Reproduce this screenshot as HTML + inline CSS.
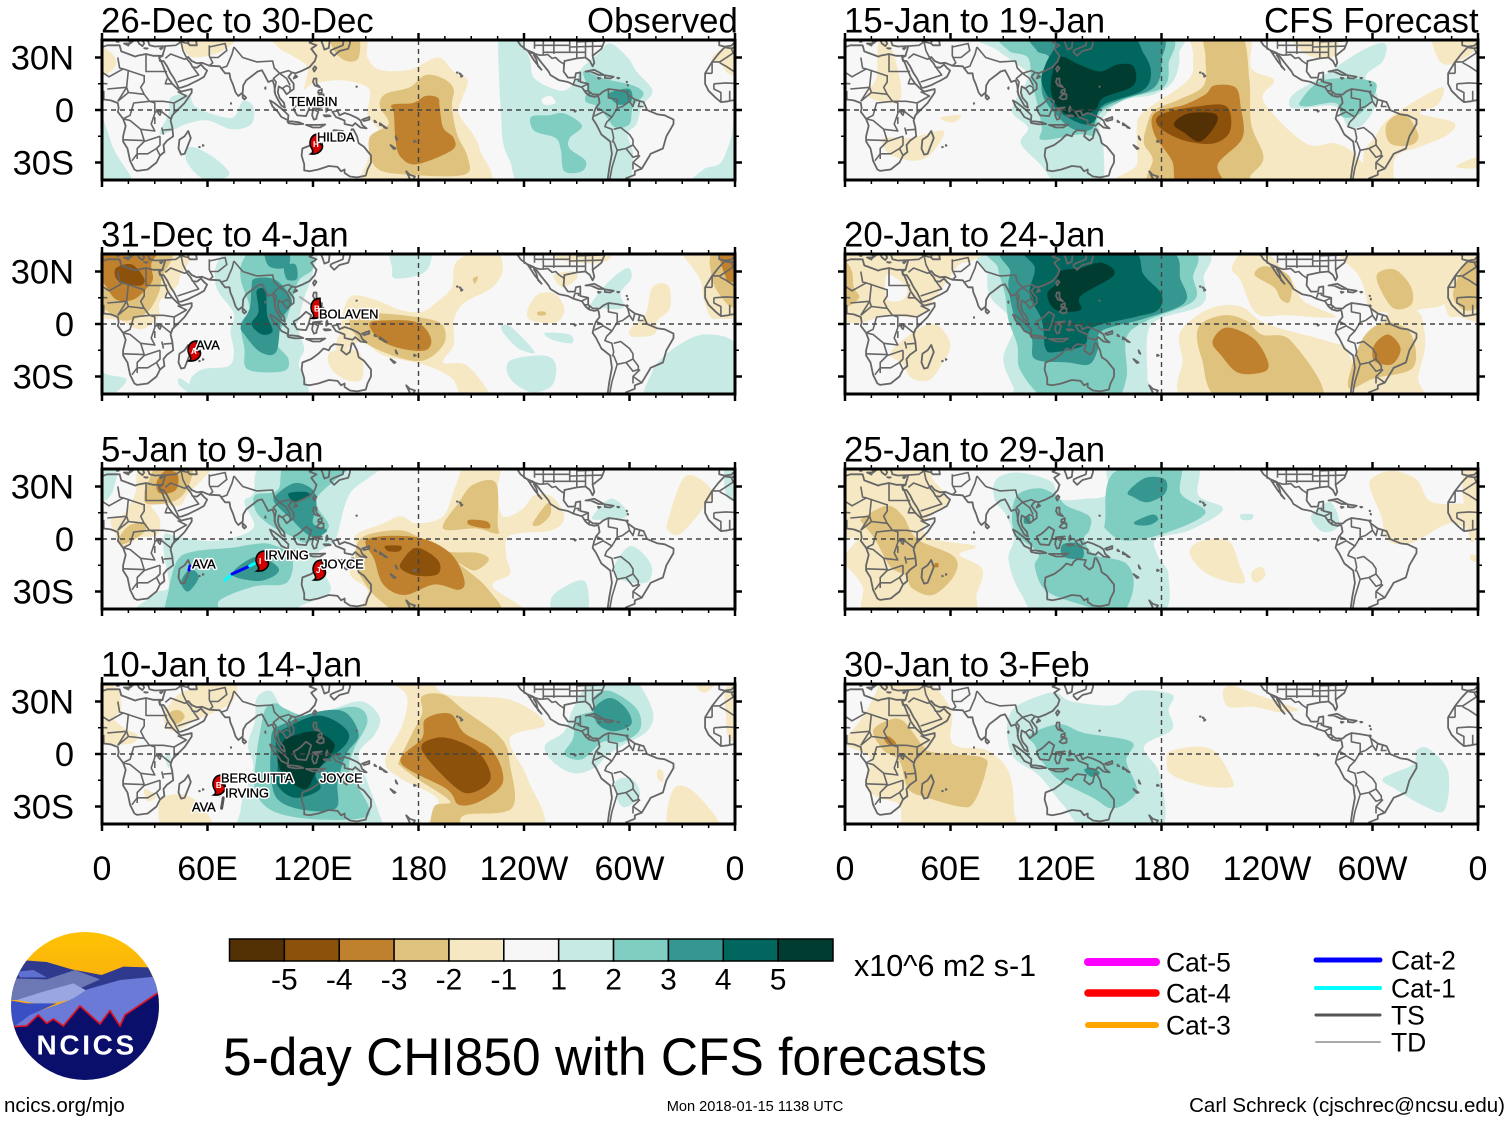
<!DOCTYPE html>
<html lang="en">
<head>
<meta charset="utf-8">
<title>5-day CHI850 with CFS forecasts</title>
<style>
html,body{margin:0;padding:0;background:#fff;}
#wrap{position:relative;width:1510px;height:1121px;overflow:hidden;}
svg{display:block;font-family:"Liberation Sans",sans-serif;}
text{fill:#000;}
.storm{font-size:12.8px;stroke:#000;stroke-width:0.35px;}
.storm-halo{font-size:12.8px;stroke:#fff;stroke-width:3.2px;stroke-linejoin:round;fill:#fff;}
</style>
</head>
<body>
<div id="wrap">
<svg id="chart" width="1510" height="1121" viewBox="0 0 1510 1121" xmlns="http://www.w3.org/2000/svg">
<defs>
<linearGradient id="sun" x1="0" y1="0" x2="0" y2="1"><stop offset="0" stop-color="#ffc400"/><stop offset="1" stop-color="#f7a21b"/></linearGradient>
<clipPath id="logoclip"><circle cx="255" cy="258" r="222"/></clipPath>
</defs>
<g id="panels"></g>

<text x="587" y="32.5" font-size="34.8">Observed</text>
<text x="1264" y="32.5" font-size="34.8">CFS Forecast</text>

<g id="colorbar"></g>
<text x="854" y="976" font-size="30.5">x10^6 m2 s-1</text>
<text x="223" y="1075" font-size="52.5" textLength="764" lengthAdjust="spacingAndGlyphs">5-day CHI850 with CFS forecasts</text>

<g id="legend"></g>

<g transform="translate(0,920) scale(0.3333)">
<g clip-path="url(#logoclip)">
<rect x="20" y="20" width="480" height="300" fill="url(#sun)"/>
<path d="M60,120 L140,126 L215,148 L305,165 L370,140 L445,142 L490,240 L20,240 Z" fill="#2f3a8f"/>
<path d="M50,155 L100,150 L140,172 L60,172 Z" fill="#5f71d0"/>
<path d="M25,175 L140,178 L225,150 L300,178 L240,205 L50,240 L25,240 Z" fill="#6b78b4"/>
<path d="M50,240 L130,215 L220,190 L265,215 L210,240 L130,255 Z" fill="#9aa6e0"/>
<path d="M262,208 L360,180 L465,170 L490,220 L400,270 L360,320 L330,270 L300,320 L240,258 L190,320 L160,300 L140,320 L115,290 L60,330 L40,320 L90,282 L170,255 L215,238 Z" fill="#6a7ad6"/>
<path d="M25,240 L80,250 L170,250 L90,285 L45,318 L25,318 Z" fill="#3a4fc4"/>
<path d="M40,320 L80,318 L115,285 L140,310 L160,297 L190,318 L240,258 L300,312 L330,272 L360,318 L375,285 L472,220 L500,220 L500,500 L10,500 L10,320 Z" fill="#0a0f6b"/>
<path d="M40,320 L80,318 L115,285 L140,310 L160,297 L190,318 L240,258 L300,312 L330,272 L360,318 L375,285 L472,220" fill="none" stroke="#e01020" stroke-width="5"/>
</g>
<text x="260" y="404" font-size="84" font-weight="bold" text-anchor="middle" letter-spacing="8" style="fill:#fff">NCICS</text>
</g>

<text x="4" y="1112" font-size="20.5">ncics.org/mjo</text>
<text x="755" y="1111" font-size="14.6" text-anchor="middle">Mon 2018-01-15 1138 UTC</text>
<text x="1505" y="1112" font-size="20.5" text-anchor="end">Carl Schreck (cjschrec@ncsu.edu)</text>
</svg>
</div>

<script>
// ---------- Chart values ----------
const periodTitles = ["26-Dec to 30-Dec","31-Dec to 4-Jan","5-Jan to 9-Jan","10-Jan to 14-Jan","15-Jan to 19-Jan","20-Jan to 24-Jan","25-Jan to 29-Jan","30-Jan to 3-Feb"];
const lonTicks = [0,60,120,180,240,300,360];
const lonTickLabels = ["0","60E","120E","180","120W","60W","0"];
const latTicks = [30,0,-30];
const latTickLabels = ["30N","0","30S"];
const colorLevels = [-5,-4,-3,-2,-1,1,2,3,4,5];
const paletteNeg = ["#f6e8c3","#dfc27d","#bf812d","#8c510a","#543005"];
const palettePos = ["#c7eae5","#80cdc1","#35978f","#01665e","#003c30"];
const neutralColor = "#f7f7f7";

// Anomaly contour polygons: [level, [lon,lat, lon,lat, ...]]
const contours0 = [
[-1,[99,44,146,44,151,30,158,23,175,23,191,30,200,22,208,17,205,7,203,-2,211,-14,215,-23,218,-44,153,-44,151,-29,158,-14,151,-3,152,5,151,13,136,17,120,15,115,12,117,24,110,30,100,36]],
[-1,[0,36,6,32,8,26,2,20,-4,21,-8,26,-13,30,-4,37]],
[-1,[44,44,76,44,69,34,53,30,47,34]],
[-2,[130,44,145,44,146,30,139,28,132,34]],
[-2,[184,20,194,18,200,12,199,2,202,-14,208,-27,206,-37,175,-37,156,-33,152,-16,163,-8,158,2,161,9,175,13]],
[-3,[184,8,191,7,192,2,194,-10,200,-16,199,-23,179,-31,170,-27,167,-18,166,-2,165,3,177,4]],
[1,[226,44,235,44,243,30,246,18,261,11,268,15,273,24,282,32,289,38,299,30,304,22,313,11,307,2,304,-8,299,-14,302,-27,294,-44,242,-44,232,-29,228,-18,227,-2,226,15]],
[0,[250,6,255,8,258,4,252,3]],
[2,[274,22,285,18,302,14,308,9,302,2,300,-8,292,-10,287,-4,282,2,275,5,276,13]],
[3,[289,10,300,12,301,5,294,3,289,7]],
[2,[244,-4,254,-3,263,-2,273,-9,266,-16,266,-22,275,-29,273,-35,263,-35,261,-23,258,-16,246,-12]],
[1,[39,7,49,9,53,2,65,-3,75,-4,80,5,86,2,85,-8,74,-11,60,-6,48,-8,33,-14,38,-2]],
[1,[50,-21,62,-26,72,-35,69,-39,57,-39,48,-29]],
[1,[0,-4,7,-23,17,-40,10,-44,-25,-44,-18,-34,-8,-30,-2,-15]]
];
const contours1 = [
[-1,[45,44,44,26,42,21,33,13,32,4,22,-3,10,2,0,3,-8,3,-14,4,-18,15,-20,26,-30,40,-30,44]],
[-2,[38,44,34,26,32,17,25,6,12,2,2,8,-5,12,-13,26,-9,44]],
[-3,[30,44,28,34,29,26,26,21,18,14,8,14,1,23,-5,26,-6,44]],
[-4,[8,32,17,34,24,26,22,22,13,23,8,26]],
[-1,[136,-6,137,6,142,16,155,14,170,8,182,7,191,13,199,21,202,36,222,44,228,32,222,21,206,12,200,2,200,-12,194,-22,208,-24,222,-44,206,-44,199,-31,182,-23,160,-18,148,-10,135,-16,134,-8,142,3]],
[-1,[130,-16,146,-16,148,-31,139,-32,130,-25]],
[-2,[141,2,155,6,179,4,193,0,195,-10,187,-19,177,-21,160,-16,146,-8]],
[-3,[152,0,160,2,179,1,187,-8,184,-15,170,-14,158,-9]],
[-2,[211,26,214,27,212,23]],
[-1,[242,8,248,17,258,17,263,8,258,1,244,2]],
[-2,[248,7,252,7,252,5,248,5]],
[-1,[257,28,268,30,270,26,262,21]],
[-1,[313,21,322,22,323,9,316,2,314,-6,301,-7,301,-2,309,5]],
[-1,[258,44,287,44,287,36,270,35,258,38]],
[1,[78,44,119,44,120,30,115,15,112,3,111,-2,115,-14,112,-23,114,-44,55,-44,50,-33,57,-26,72,-24,75,-16,73,-4,75,6,65,21,66,36]],
[2,[80,36,89,44,115,44,120,32,112,25,108,13,105,3,99,-10,106,-20,103,-27,83,-26,81,-14,79,0,84,9,79,25]],
[3,[93,44,105,44,106,33,95,33]],
[3,[104,33,110,34,111,26,106,25,104,28]],
[3,[87,26,99,25,108,13,102,2,99,-16,90,-16,81,-6,79,-1,84,9,85,21]],
[4,[88,19,93,19,94,5,97,-4,91,-6,85,0,89,7]],
[1,[165,44,186,44,184,30,167,26,165,32]],
[1,[279,13,289,25,299,32,301,26,295,18,296,9,279,10]],
[1,[227,-1,233,-2,246,-16,237,-14,229,-6]],
[1,[252,-5,266,-6,267,-11,256,-9]],
[1,[232,-21,251,-18,258,-23,256,-35,244,-39,232,-31]],
[1,[318,-20,328,-12,342,-6,359,-10,360,-27,374,-32,360,-44,345,-44,310,-44,313,-27]],
[1,[44,-31,50,-35,51,-40,44,-35]]
];
const contours2 = [
[-1,[24,44,62,44,57,34,49,26,44,19,33,20,28,19,33,11,31,2,22,1,14,-4,10,-3,7,4,5,11,12,14,19,26]],
[-2,[26,32,33,44,50,44,50,32,42,22,26,20,24,26]],
[-2,[16,8,25,9,23,3,12,-3,10,1]],
[-3,[31,32,36,39,43,37,42,28,33,26]],
[-1,[144,2,160,9,170,13,179,9,194,13,201,30,208,44,226,44,225,28,228,13,239,17,246,25,256,24,263,13,256,5,232,2,230,-10,232,-20,222,-27,238,-44,155,-44,151,-29,141,-20,146,-8]],
[-1,[322,11,332,36,347,28,343,19,329,3,322,5]],
[-2,[194,6,203,21,211,31,224,32,225,9,225,3,213,6]],
[-2,[245,9,254,21,255,14,249,8]],
[-3,[209,11,219,10,220,6,209,8]],
[-2,[148,1,169,5,182,0,196,-7,214,-8,220,-12,212,-18,203,-14,219,-28,225,-44,176,-44,158,-35,148,-23,144,-12]],
[-3,[151,0,179,1,198,-8,206,-23,203,-29,189,-26,172,-32,160,-26,155,-12]],
[-4,[161,-4,170,-4,169,-7,163,-7]],
[-4,[171,-12,179,-5,191,-12,191,-20,179,-21,170,-17]],
[1,[95,44,158,44,141,26,134,3,132,-2,122,-10,130,-27,126,-33,112,-39,115,-44,24,-44,31,-31,38,-27,35,-6,36,3,44,1,65,-1,86,6,81,21,86,26]],
[2,[87,25,100,28,106,44,142,44,122,23,129,7,117,-2,109,1,97,7,88,15]],
[2,[38,-44,38,-29,43,-12,53,-7,74,-5,86,-3,96,-3,108,-10,105,-25,87,-27,67,-35,65,-44]],
[3,[98,21,100,26,110,32,120,28,122,19,120,9,128,5,121,1,115,4,108,11]],
[3,[74,-20,88,-10,100,-16,98,-21,88,-24]],
[3,[48,-19,51,-17,55,-22,49,-30,45,-25]],
[4,[106,26,115,27,118,25,110,21]],
[1,[279,13,289,23,298,17,297,12,282,11]],
[1,[292,-14,301,-4,312,-14,311,-24,301,-25,292,-21]],
[1,[256,-33,270,-24,276,-27,275,-44,258,-44]],
[1,[-5,44,8,44,7,30,2,22,-5,25]]
];
const contours3 = [
[-1,[160,44,184,44,196,34,232,31,252,17,232,9,242,-14,249,-44,189,-44,191,-26,170,-14,161,-4,171,17,173,34]],
[-2,[182,33,194,34,206,25,227,9,232,-6,233,-31,206,-35,203,-44,188,-44,189,-30,198,-27,179,-14,170,-7,169,-4,176,11,182,23]],
[-3,[184,20,198,23,206,12,222,2,228,-16,215,-27,203,-29,196,-20,170,-5,182,9]],
[-4,[182,2,189,9,201,8,215,0,221,-14,211,-22,201,-19]],
[-1,[35,23,38,28,47,36,74,44,74,30,53,19,41,13,36,17]],
[-2,[39,24,44,25,47,21,42,17,39,20]],
[-1,[-5,38,8,38,11,26,7,20,14,14,20,11,17,6,2,6,-4,10,-5,20]],
[-1,[24,-20,31,-24,26,-27]],
[-1,[33,-27,44,-23,55,-28,63,-44,36,-44]],
[-1,[316,-9,319,-10,319,-16,316,-14]],
[-1,[325,-20,337,-22,352,-44,323,-44]],
[-1,[337,44,350,44,345,36,340,36]],
[1,[88,32,96,36,103,26,117,21,132,26,148,30,158,21,155,11,146,0,151,-16,160,-41,158,-44,85,-44,79,-31,86,-8,83,5,87,19]],
[2,[93,26,99,29,104,26,117,22,143,27,151,19,143,2,141,-10,152,-31,146,-37,117,-37,96,-32,87,-20,88,0,90,13]],
[3,[97,13,103,17,122,24,138,24,146,11,139,0,134,-16,133,-31,115,-32,100,-26,96,-12,96,3]],
[4,[99,9,105,15,123,22,138,15,139,6,122,-10,124,-20,110,-25,100,-18,100,-6]],
[5,[103,7,108,10,120,13,129,9,132,3,122,-10,116,-20,105,-14,100,-4]],
[1,[252,5,263,13,268,26,280,44,301,44,313,25,310,13,296,5,287,-1,280,-8,268,-11,256,-4]],
[2,[263,0,268,9,270,21,280,25,280,33,289,36,304,26,306,14,296,7,285,7,273,-3]],
[3,[280,26,289,32,298,26,301,17,291,13,282,17]],
[1,[292,-16,301,-14,306,-23,299,-30,294,-28]],
[1,[36,-2,39,0,38,-8]]
];
const contours4 = [
[-1,[199,44,229,44,231,24,244,17,238,5,262,-19,279,-19,291,-27,293,-44,159,-44,166,-31,166,-10,170,-1,195,17,198,30]],
[-2,[205,44,225,44,230,17,231,-8,238,-27,231,-37,225,-44,175,-44,175,-28,170,-19,172,-8,176,0,190,6,204,14,205,30]],
[-3,[205,9,210,14,222,13,225,2,226,-16,212,-31,215,-44,190,-44,186,-29,176,-14,176,-2,193,3]],
[-4,[181,-2,200,2,217,2,219,-12,210,-19,195,-18,183,-13,177,-7]],
[-5,[187,-8,195,-2,210,-2,211,-8,202,-18,193,-13]],
[-1,[301,-16,308,-6,324,5,340,13,337,3,327,-2,346,-7,343,-14,327,-21,313,-27,311,-44,297,-44,295,-25]],
[-2,[308,-8,318,-2,326,-14,322,-20,310,-19]],
[-1,[349,-31,360,-27,360,-33,349,-33]],
[-1,[335,44,358,44,358,34,344,26,337,30]],
[-1,[19,38,25,38,31,19,31,5,20,5,13,9,18,19]],
[-1,[22,-16,37,-16,56,-12,49,-25,39,-29,25,-25]],
[-1,[55,-4,66,-3,62,-7,56,-6]],
[-1,[254,44,279,44,277,30,262,32]],
[1,[78,44,183,44,190,32,187,17,176,9,157,5,145,-8,147,-21,145,-44,123,-44,111,-31,100,-19,104,-10,95,0,104,19,95,28,87,34]],
[2,[94,44,180,44,184,26,181,13,162,7,145,-2,142,-14,133,-14,112,-17,112,-10,109,5,106,17,104,30,93,34]],
[3,[110,44,176,44,180,28,176,13,157,6,145,0,140,-11,128,-10,114,5,112,17,116,30,109,34]],
[4,[115,44,159,44,170,32,174,21,169,11,147,3,142,-6,135,-8,121,0,112,15,114,26,120,38]],
[5,[122,30,133,26,145,22,155,26,164,25,164,14,147,7,142,0,130,-4,120,3,117,15]],
[1,[253,2,255,9,271,19,294,34,307,38,306,28,296,19,303,7,295,-8,286,-9,279,2,260,1]],
[2,[259,5,272,17,298,17,302,11,293,-2,283,-4,279,4,262,2]]
];
const contours5 = [
[1,[84,44,198,44,204,26,203,11,179,3,172,-6,172,-31,171,-44,96,-44,96,-37,90,-20,96,0,83,15,81,28]],
[2,[88,44,191,44,198,26,198,13,172,2,160,-8,160,-31,151,-44,117,-44,100,-27,98,-12,93,2,91,17,87,32]],
[3,[94,44,179,44,191,25,193,12,170,3,146,-4,144,-14,139,-23,127,-22,108,-20,106,-8,97,3,93,21,94,30]],
[4,[103,44,160,44,170,28,180,17,178,8,165,4,141,-2,136,-12,120,-16,114,-14,112,2,105,17,108,32]],
[5,[122,30,134,32,146,35,153,28,134,16,134,8,120,8,115,17,120,23]],
[-1,[-20,44,75,44,72,36,65,34,57,23,50,13,42,4,24,5,10,1,0,1,-10,4,-18,8]],
[0,[23,26,26,28,35,21,33,14,24,14]],
[-2,[0,36,4,30,5,21,8,15,0,9,-8,8,-14,15,-12,25,-6,36]],
[-1,[283,44,342,44,343,22,340,11,326,8,328,4,330,-12,326,-31,328,-44,286,-44,287,-31,291,-16,301,-2,309,6,299,8,295,21,292,28]],
[-2,[303,29,313,31,322,21,322,11,312,9,304,21]],
[-1,[220,32,228,44,237,44,254,25,261,13,279,4,251,5,234,6,225,25]],
[-2,[233,28,239,33,253,27,253,13,248,14,244,21]],
[-1,[191,-4,208,9,225,10,240,0,275,-10,286,-16,286,-44,197,-44,192,-20]],
[-2,[201,-2,215,5,228,2,237,-6,254,-10,271,-44,215,-44,203,-20]],
[-3,[209,-10,217,-2,232,-8,240,-20,239,-27,224,-28,214,-18]],
[-2,[287,-37,288,-25,296,-6,309,1,322,-6,323,-25,301,-31]],
[-3,[301,-12,309,-6,316,-14,311,-23,301,-21]],
[-1,[26,-16,43,-2,53,-1,60,-12,55,-23,48,-32,38,-31,33,-23]]
];
const contours6 = [
[-1,[-5,44,44,44,50,34,59,22,48,13,47,1,74,-4,65,-9,78,-17,75,-31,69,-44,14,-44,10,-27,0,-14,0,-9,7,0,0,0,-5,2]],
[-2,[10,12,24,19,33,13,41,0,62,-10,62,-21,50,-32,38,-28,35,-21,26,-16,17,0,10,9]],
[-3,[51,-14,53,-14,53,-16,51,-16]],
[1,[86,34,98,38,117,33,122,23,136,23,150,26,152,44,198,44,201,25,215,17,196,5,177,0,178,-10,184,-21,177,-44,115,-44,100,-31,93,-12,96,0,92,13,85,23]],
[2,[95,12,98,25,110,29,120,25,126,19,139,13,139,5,136,0,142,-9,160,-14,164,-28,156,-44,139,-39,115,-30,108,-16,110,-8,98,2]],
[2,[148,11,153,38,189,44,191,26,205,15,184,4,160,-1,149,5]],
[3,[161,27,171,35,182,34,182,26,172,21,164,24]],
[3,[165,10,175,14,178,11,173,8,166,8]],
[3,[124,-3,134,-3,135,-11,124,-10]],
[3,[102,12,105,13,105,9,102,9]],
[1,[225,14,232,14,231,11,226,11]],
[1,[265,13,276,21,281,8,272,4]],
[-1,[196,-7,203,-1,218,-1,224,-14,227,-25,213,-23,202,-17]],
[-1,[232,-18,237,-16,239,-21,234,-25,231,-22]],
[-1,[299,34,311,39,325,34,334,21,359,19,359,4,344,9,323,-2,309,-1,305,13,300,25]],
[-1,[356,-9,360,-10,360,-13,356,-12]]
];
const contours7 = [
[-1,[17,34,24,44,44,44,60,26,60,9,65,4,81,2,93,-10,96,-31,92,-44,38,-44,31,-29,19,-25,12,-18,14,-2,0,6,7,17,12,24]],
[-2,[16,13,24,19,33,19,44,5,50,1,78,-2,80,-10,73,-28,65,-30,47,-25,36,-20,31,-4,22,2]],
[-3,[22,9,25,10,29,6,25,5]],
[-1,[215,36,220,39,234,34,257,26,252,24,246,24,232,27,218,27]],
[-1,[183,-5,186,2,208,3,220,-14,219,-19,203,-18,186,-12]],
[1,[92,14,96,26,110,33,120,35,129,30,153,28,165,36,186,34,184,25,186,14,170,4,179,-12,179,-44,139,-44,124,-29,110,-12,96,-2]],
[2,[105,11,122,17,136,12,163,7,160,-4,166,-20,160,-28,151,-31,141,-25,122,-15,112,-4,108,5]],
[3,[136,-9,141,-8,145,-11,140,-13]],
[1,[306,-14,323,-6,325,2,332,3,343,-10,341,-32,330,-30,313,-20]]
];
const panelContours = [contours0,contours1,contours2,contours3,contours4,contours5,contours6,contours7];

// Coastlines and borders as lon/lat polylines
const coastClosed = [
[-6,35.8,-9.5,32,-13,27.5,-17,21,-17,15,-15,11,-11,7,-8,4.5,-4,5,1,6,5,5.5,9,4,9.5,1,9,-1,12,-5,13.5,-9,12,-15,12,-18,14.5,-22,16,-29,18.4,-34,20,-34.8,26,-34,31,-30,33,-26,35.5,-24,35,-20,37,-17.5,40.5,-15,40,-10,39,-6,40,-3,43,0,47,4,51,10,51,12,45,10.5,43,12,40,15,37.5,18.5,36,22,34,27,32.5,30,34.5,31,32,31,29,31,25,32,20,31,19,30.5,15,32,11,33.5,10,37,3,37,-2,35.2],
[49,-12,50.5,-16,47,-25,45,-25.5,43.5,-22,44,-17,47,-15],
[114,-22,113.5,-26,115,-31,115,-34.5,118,-35,123,-34,129,-32,134,-32.5,136,-35,138,-34,138,-36,141,-38,145,-38.5,150,-37.5,151,-34,153,-30,153,-26,149,-21,146,-19,145,-15,143,-11,142,-11,141,-16,139,-17.5,136,-15,137,-12,132,-11.5,130,-13,129,-15,126,-14,123,-17,119,-20],
[80,9,82,7,81,6,80,7],
[110,20,111,19,109,18],
[121,25,122,24,120.7,22,120,23.5],
[120.5,18,122,18,122,15,124,13,121,14,120,16],
[122,7,124,9,126,9,126,6.5,124,6],
[123,11,125,12,125,10,123,9.5],
[109,1.5,111,2.5,113,4,116,7,119,5,118,2,117.5,0,116,-3.5,111,-3,109.5,-0.5],
[95.5,5.5,98,4,103,0,106,-3,105.8,-5.8,102,-4,100,-1,97,2],
[105.5,-6.5,108,-6.5,112,-7,114.5,-8,110,-8.2,106,-7.5],
[120,1,125,1.5,121,0,123,-1,122,-4,122,-5,120.5,-5.5,119.5,-3,120,0],
[116,-8.5,119,-8.5,123,-8.5,127,-8.3,124,-10,120,-10],
[131,-1,134,-0.5,135,-3,138,-1.7,141,-2.7,145,-4.5,147,-6,148,-8.5,150.5,-10.5,147,-10,144,-7.5,142.5,-9,138,-8,138,-6,133,-4,132,-2.5],
[148,-5.5,152,-4,152,-5.5,149,-6.3],
[128,2,128.5,0,127.5,-1,127.5,1],
[126,-3,129,-3,130,-3.5,127,-3.7],
[130,33,132,31,135,33.7,140,35,141,38,141.5,44,138,44,137,37,132,35,130,34],
[-85,22,-80,23,-74.5,20,-77.5,20,-82,22],
[-74,19.8,-69,19,-71,18,-74,18.3],
[-78,18.4,-76.5,18.2,-77.5,17.8],
[-67,18.4,-65.8,18.3,-66.5,18],
[50,37,54,37,53,42,49.5,42,49,38],
[12.5,38,15.5,38,15,36.8],
[24,35.3,26,35.2,25,35],
[33,35.2,34.5,35.6,33.5,34.7],
[8.3,41,9.7,41,9.5,39,8.5,39],
[164,-20,167,-22,166,-22.3],
[167,-15,168,-17,167.3,-16.5],
[177.5,-17.5,178.5,-18,177.5,-18.3],
[155,-6,156,-7,155,-6.8],
[158,-7.5,160,-9,158,-8.6],
[160,-9,162,-10.4,160.5,-10],
[173,-35,175,-37,178,-38,176,-41,173,-41,175,-39],
[-155.8,20,-155,19.5,-155.8,19],
[-158.2,21.5,-157.7,21.5,-158,21.2],
[-156.7,21,-156,20.7,-156.5,20.6],
[-91.5,-0.3,-90.5,-0.5,-91,-1],
[57.3,-20,57.8,-20.3,57.4,-20.5],
[55.3,-21,55.7,-21.2,55.3,-21.3],
[73.3,4,73.5,3.8,73.3,3.5],
[93,13,93,12,92.7,12.5],
[144.7,13.5,145,13.3,144.7,13.2],
[-61,14.5,-60.8,14,-61.1,14],
[-61.7,16.2,-61.3,16,-61.6,15.9],
[-61.3,10.7,-60.9,10.3,-61.4,10.1]
];
const coastOpen = [
[-9,40,-9,38.7,-9,37,-6,36.2,-2,36.8,0,39,0,40,3,42],
[12,42,16,39,15.6,38,16,38,18.5,40,16,41,16,44],
[20,40,21,38,23,36.5,24,38,23,40,26,40,27,37,30,36.3,36,36.5,35,33,34.5,31.5,34.5,31],
[32.5,30,33,28,34.3,28,35,28,37,25,39,21,41,18,43,14,43.5,12.7,45,12.8,49,14.2,52,15.7,55,17.2,58,19,59.8,22.5,58,24,56.3,26,54,24.2,51.5,24.5,50.5,26.5,48,29.5,49,30.3,51,28,54,26.7,57,27,61,25.3,67,25,68,23.5,70,21,72.5,21,73,18,74.5,14.5,76,10,77.5,8,80,10,80.3,14,82,17,86,20,88.5,22,91,22.7,92.5,20,94.5,16,97,17,98,14,98.5,9,100,6,102,2.5,104,1.3,103.5,4,101,7,100,10,100.5,13.5,103,12,105,9,107,10.5,109,12,109,15,106,19,108,21.5,110,21,114,22.5,118,24.5,121,28,122,31,119,35,122,37,118,38.5,121,40,124.5,40,125.5,37.5,126.5,34.5,129,35.5,129.5,40,131,44],
[-124,44,-124,40,-122,37,-118,34,-117,32.5,-114,28,-110,23,-112,25,-113,29,-114.5,31.5,-113,31,-110,27,-106,22,-105,20,-100,17,-95,16,-92,14.5,-87,13,-85,10,-83,8.3,-80,7.5,-78,8,-77.5,7,-77,4,-79,1.5,-80,-1,-81,-5,-79,-8,-76,-14,-71,-18,-70,-25,-71.5,-33,-73,-44],
[-65,-44,-62,-39,-57,-37,-57,-35,-53,-33.5,-48.5,-26,-48,-25,-41,-22,-39,-15,-35,-8,-35,-5.5,-40,-3,-44,-2.5,-50,0,-52,4.5,-57,6,-61,9,-62,10.5,-68,11.5,-72,12,-75,10.5,-77,8.8,-81,9,-83.5,11,-83.5,15,-88,16,-88,21.5,-90.5,21,-91,18.5,-95,18.5,-97.5,22,-97,28,-90,29.5,-85,30,-82.5,28,-81,25,-80,27,-81,31,-76,35,-74,40,-70,44]
];
const borderLines = [
[-13,21,-17,21],[-13,27.5,-13,21],[-13,27.5,-8.7,27.5,-1,32.5,-2,35],[-8.7,27,-5,25,4,19,12,23.5,24,19.5],
[9,30,10,24,12,23.5],[25,32,25,22,37,22],[24,20,24,16,22,13,24,9,27,5,35,5],[15,23,14,13,15,10,24,9],[3,12,14,13],[14,13,9,5],
[-12,15,-5,15.5,3,15],[-3,5,-3,11],[1,6,1,11],[-8,4.5,-8,10,-12,12,-12,15],
[12,-5,16,-6,22,-11,30,-12,28,-8,30,-2,30,4,27,5,18,4,16,-3,12,-5],[12,-17,24,-17.5,22,-11],[20,-28,20,-22,24,-18],[24,-18,33,-15],[17,-29,20,-25,26,-25,31,-22,33,-26],[33,-15,33,-20,31,-22],[35,-11.5,40.5,-11],[30,-1,34,-1,39,-5],
[32,0,34,0,33,-3,32,-2,32,0],[35,5,41,4,41,-1.5,39,-5],[41,4,48,8,43,10.5],[30,-4,30,-8],[34,-10,35,-14],[37,18,36,15,40,15],[15,10,9,5],
[36,29.5,39,32,47,29,48,29.5],[43,16,52,19,55,20,52,24],[45,39,46,34,48,30],[61,37,61,31,63,27,61,25.3],[61,36,70,38,71,34,66,30,61,30],[68,24,71,25,74,32,75,36],[75,36,80,30,88,27.5,97,28,98,24,101,21,106,22.5,108,21.5],[98,10,99,16,97.5,18,101,21],[102,12,105,14,107,13,107,10.5],[101,21,105,18,107,14],[36,36.5,42,37,45,39],[49,38,45,39,40,41],
[-117,32.5,-115,32.5,-111,31.3,-108,31.5,-106.5,31.7,-104,29.5,-102,30,-100,28,-97,26],
[-120,44,-120,35,-114,32.5],[-114,44,-114,35],[-109,44,-109,31.5],[-103,44,-103,32],[-94,44,-94,33],[-114,37,-94,37],[-120,41,-90,41],[-109,33,-94,33,-85,33],[-90,44,-90,30],[-85,39,-85,30],[-81,39,-81,31],[-94,36,-75,36.5],[-90,39,-75,39.5],
[-92,14.5,-91,17.5,-89,17.5,-89,16],[-87.5,13,-83.5,15],[-85.5,11,-83.7,11],[-83,8.3,-83,10],
[-72,12,-72,7,-67,6,-67,1,-70,-4,-73,-7,-74,-9.5,-70,-11,-69,-16,-69.5,-18,-70,-18.3],[-69,-11,-65,-10,-60,-14,-58,-17,-58,-20,-62,-22,-67,-23,-69,-18],[-67,-23,-70,-33,-72,-44],[-62,-22,-58,-27,-55,-26,-55,-24,-58,-20],[-58,-34,-58,-30,-53,-33.5],[-58,-30,-54,-26],
[-61,9,-60,5,-64,2,-67,1],[-57,6,-58,2,-60,5],[-54,5.5,-55,2,-52,2],[-80,-3.5,-75,-1,-70,-4],[-79,1.5,-75,-0.5]
];

// Named storm labels and markers: panel, name, marker lon/lat (null if unmarked), label lon/lat
const stormPanels = [0,0,1,1,2,2,2,3,3,3,3];
const stormNames = ["TEMBIN","HILDA","BOLAVEN","AVA","AVA","IRVING","JOYCE","BERGUITTA","IRVING","JOYCE","AVA"];
const stormMarkers = [null,[121.7,-19.4],[122.3,9],[52.3,-15.4],null,[91,-12.6],[123.4,-17.7],[66.5,-17.7],null,null,null];
const stormLabels = [[106.4,5],[122.3,-15.4],[123.4,5.7],[53.5,-12],[51.2,-14.3],[92.7,-9],[124.6,-14.3],[67.7,-13.7],[70,-22.3],[124,-13.7],[51.2,-30.3]];

// Storm tracks: panel, category, lon/lat path
const trackPanels = [2,2,2,2,1,3];
const trackCats = ["Cat-1","Cat-2","Cat-1","Cat-2","TD","TS"];
const trackPaths = [[70,-23.4,74,-20],[74,-20,84,-15.4],[84,-15.4,88.6,-13],[49.5,-17.7,50,-15.5],[112.6,15.4,122,9],[69,-25,68,-31]];

const legendNames = ["Cat-5","Cat-4","Cat-3","Cat-2","Cat-1","TS","TD"];
const legendColors = ["#ff00ff","#ff0000","#ffa500","#0000ff","#00ffff","#555555","#aaaaaa"];
const legendWidths = [8,7.5,6,5,4,3,2];

// ---------- Layout ----------
const SVGNS = "http://www.w3.org/2000/svg";
const panelWidth = 633, panelHeight = 140;
const colLeft = [102, 845];
const rowTop = [40, 254, 469, 684];
function mk(tag, attrs, parent, txt){
  const el = document.createElementNS(SVGNS, tag);
  for (const k in attrs) el.setAttribute(k, attrs[k]);
  if (txt !== undefined) el.textContent = txt;
  parent.appendChild(el);
  return el;
}
function colorFor(level){
  if (level === 0) return neutralColor;
  return level < 0 ? paletteNeg[-level-1] : palettePos[level-1];
}
function smoothClosed(pts){
  const n = pts.length;
  let d = "M" + pts[0][0].toFixed(1) + "," + pts[0][1].toFixed(1);
  for (let i = 0; i < n; i++){
    const p0 = pts[(i-1+n)%n], p1 = pts[i], p2 = pts[(i+1)%n], p3 = pts[(i+2)%n];
    const c1x = p1[0]+(p2[0]-p0[0])/6, c1y = p1[1]+(p2[1]-p0[1])/6;
    const c2x = p2[0]-(p3[0]-p1[0])/6, c2y = p2[1]-(p3[1]-p1[1])/6;
    d += "C"+c1x.toFixed(1)+","+c1y.toFixed(1)+" "+c2x.toFixed(1)+","+c2y.toFixed(1)+" "+p2[0].toFixed(1)+","+p2[1].toFixed(1);
  }
  return d + "Z";
}
function linePath(flat, xs, ys, off, close){
  let d = "";
  for (let i = 0; i < flat.length; i += 2){
    d += (i ? "L" : "M") + xs(flat[i]+off).toFixed(1) + "," + ys(flat[i+1]).toFixed(1);
  }
  return d + (close ? "Z" : "");
}

const panelsG = document.getElementById("panels");
const defs = document.querySelector("defs");
const catColor = {}, catWidth = {};
legendNames.forEach(function(n,i){ catColor[n] = legendColors[i]; catWidth[n] = legendWidths[i]; });

function drawPanel(idx){
  const col = idx < 4 ? 0 : 1;
  const row = idx % 4;
  const x0 = colLeft[col], y0 = rowTop[row];
  const xs = function(lon){ return x0 + lon*panelWidth/360; };
  const ys = function(lat){ return y0 + panelHeight/2 - lat*panelHeight/80; };

  const g = mk("g", {}, panelsG);
  
  

  const clip = mk("clipPath", {id:"clip"+idx}, defs);
  mk("rect", {x:x0, y:y0, width:panelWidth, height:panelHeight}, clip);

  const title = mk("text", {x:x0-1, y:y0-7.5, "font-size":34.8}, g, periodTitles[idx]);
  
  

  const inner = mk("g", {"clip-path":"url(#clip"+idx+")"}, g);
  const bg = mk("rect", {x:x0, y:y0, width:panelWidth, height:panelHeight, fill:neutralColor}, inner);
  
  

  const order = panelContours[idx].slice().sort(function(a,b){
    const wa = a[0]===0 ? 1.5 : Math.abs(a[0]);
    const wb = b[0]===0 ? 1.5 : Math.abs(b[0]);
    return wa-wb;
  });
  order.forEach(function(c){
    const level = c[0], flat = c[1];
    const lons = flat.filter(function(v,i){ return i%2===0; });
    const offs = [0];
    if (Math.min.apply(null,lons) < 0) offs.push(360);
    if (Math.max.apply(null,lons) > 360) offs.push(-360);
    offs.forEach(function(off){
      const pts = [];
      for (let i = 0; i < flat.length; i += 2) pts.push([xs(flat[i]+off), ys(flat[i+1])]);
      const p = mk("path", {d:smoothClosed(pts), fill:colorFor(level)}, inner);
      
      
    });
  });

  // Map outlines
  const mapG = mk("g", {fill:"none", stroke:"#666", "stroke-width":1.8, "stroke-linejoin":"round"}, inner);
  
  
  [0,360].forEach(function(off){
    coastClosed.forEach(function(f){ mk("path", {d:linePath(f,xs,ys,off,true)}, mapG); });
    coastOpen.forEach(function(f){ mk("path", {d:linePath(f,xs,ys,off,false)}, mapG); });
    borderLines.forEach(function(f){ mk("path", {d:linePath(f,xs,ys,off,false),"stroke-width":1.6}, mapG); });
  });

  // Reference lines
  const eq = mk("line", {x1:x0, x2:x0+panelWidth, y1:ys(0), y2:ys(0), stroke:"#444", "stroke-width":1.4, "stroke-dasharray":"5 4"}, inner);
  
  
  const dl = mk("line", {x1:xs(180), x2:xs(180), y1:y0, y2:y0+panelHeight, stroke:"#444", "stroke-width":1.4, "stroke-dasharray":"5 4"}, inner);
  
  

  // Tracks
  trackPanels.forEach(function(pn,i){
    if (pn !== idx) return;
    const t = mk("path", {d:linePath(trackPaths[i],xs,ys,0,false), fill:"none", stroke:catColor[trackCats[i]], "stroke-width":catWidth[trackCats[i]]<3?catWidth[trackCats[i]]:3, "stroke-linecap":"round"}, inner);
    
    
  });

  // Storms
  stormPanels.forEach(function(pn,i){
    if (pn !== idx) return;
    if (stormMarkers[i]){
      const mx = xs(stormMarkers[i][0]), my = ys(stormMarkers[i][1]);
      const s = mk("g", {transform:"translate("+mx.toFixed(1)+","+my.toFixed(1)+")"}, g);
      
      
      mk("path", {d:"M3,-10 C-6,-10 -8,0 -4,5 C-3,7 -3,9 -5,10 C3,11 8,5 6,0 C4,3 3,-4 3,-10Z", fill:"#d40000", stroke:"#000", "stroke-width":1.6}, s);
      mk("text", {x:-3, y:3, "font-size":8, "font-weight":"bold", style:"fill:#fff"}, s, stormNames[i].charAt(0));
    }
    const lx = xs(stormLabels[i][0]).toFixed(1), ly = (ys(stormLabels[i][1])+4.5).toFixed(1);
    const halo = mk("text", {x:lx, y:ly, "class":"storm-halo", "aria-hidden":"true"}, g, stormNames[i]);
    
    
    const lb = mk("text", {x:lx, y:ly, "class":"storm"}, g, stormNames[i]);
    
    
  });

  // Axes frame and ticks
  const axes = mk("g", {stroke:"#000", fill:"none"}, g);
  
  
  mk("rect", {x:x0, y:y0, width:panelWidth, height:panelHeight, "stroke-width":3}, axes);
  for (let lon = 0; lon <= 360; lon += 15){
    const major = lon % 60 === 0;
    const len = major ? 7 : 4, w = major ? 2.5 : 1.5;
    mk("line", {x1:xs(lon), x2:xs(lon), y1:y0, y2:y0-len, "stroke-width":w}, axes);
    mk("line", {x1:xs(lon), x2:xs(lon), y1:y0+panelHeight, y2:y0+panelHeight+len, "stroke-width":w}, axes);
  }
  [-30,-15,0,15,30].forEach(function(lat){
    const major = lat % 30 === 0;
    const len = major ? 7 : 4, w = major ? 2.5 : 1.5;
    mk("line", {x1:x0, x2:x0-len, y1:ys(lat), y2:ys(lat), "stroke-width":w}, axes);
    mk("line", {x1:x0+panelWidth, x2:x0+panelWidth+len, y1:ys(lat), y2:ys(lat), "stroke-width":w}, axes);
  });

  if (col === 0){
    latTicks.forEach(function(lat,i){
      const t = mk("text", {x:74, y:ys(lat)+12, "font-size":34.5, "text-anchor":"end"}, g, latTickLabels[i]);
      
      
    });
  }
  if (row === 3){
    lonTicks.forEach(function(lon,i){
      const t = mk("text", {x:xs(lon), y:880, "font-size":34, "text-anchor":"middle"}, g, lonTickLabels[i]);
      
      
    });
  }
}
for (let i = 0; i < 8; i++) drawPanel(i);

// Colorbar
(function(){
  const g = document.getElementById("colorbar");
  const bx = 229.5, by = 939, bw = 603.5/11, bh = 22;
  const fills = paletteNeg.slice().reverse().concat([neutralColor]).concat(palettePos);
  fills.forEach(function(c,i){
    const r = mk("rect", {x:bx+i*bw, y:by, width:bw, height:bh, fill:c, stroke:"#000", "stroke-width":1.5}, g);
    
    
  });
  colorLevels.forEach(function(lv,i){
    const t = mk("text", {x:bx+(i+1)*bw, y:989.5, "font-size":30, "text-anchor":"middle"}, g, String(lv));
    
    
  });
})();

// Legend
(function(){
  const g = document.getElementById("legend");
  const layoutX = [1088,1088,1088,1316,1316,1316,1316];
  const layoutX2 = [1156,1156,1156,1380,1380,1380,1380];
  const layoutY = [962,993,1025,960,988,1015,1042];
  const textX = [1166,1166,1166,1391,1391,1391,1391];
  legendNames.forEach(function(n,i){
    const l = mk("line", {x1:layoutX[i], x2:layoutX2[i], y1:layoutY[i], y2:layoutY[i], stroke:legendColors[i], "stroke-width":legendWidths[i], "stroke-linecap":"round"}, g);
    
    
    const t = mk("text", {x:textX[i], y:layoutY[i]+9.5, "font-size":26.5}, g, n);
    
    
  });
})();
</script>
</body>
</html>
